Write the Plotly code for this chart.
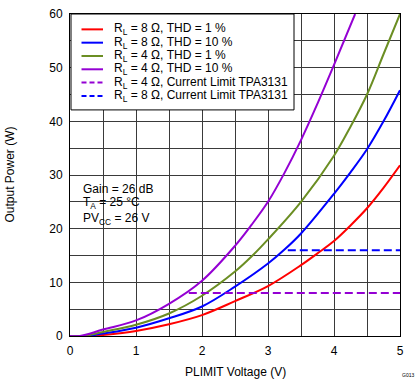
import plotly.graph_objects as go

# ---- data ----
v_red = [0, 0.3, 0.5, 1.0, 1.5, 2.0, 2.5, 3.0, 3.5, 3.75, 4.0, 4.25, 4.5, 4.75, 5.0]
p_red = [0, 0.0, 0.2, 0.95, 2.2, 3.9, 6.5, 9.3, 13.2, 15.4, 17.7, 20.6, 23.8, 27.6, 31.8]

v_blue = [0, 0.25, 0.5, 1.0, 1.5, 2.0, 2.5, 3.0, 3.25, 3.5, 4.0, 4.25, 4.5, 4.75, 5.0]
p_blue = [0, 0.0, 0.45, 1.55, 3.3, 5.5, 9.2, 13.5, 16.1, 19.1, 26.5, 30.5, 34.8, 40.0, 45.8]

v_olive = [0, 0.2, 0.5, 1.0, 1.5, 2.0, 2.5, 2.75, 3.0, 3.5, 4.0, 4.25, 4.5, 4.75, 5.0]
p_olive = [0, 0.0, 0.75, 2.1, 4.2, 7.5, 12.0, 14.8, 18.0, 25.0, 33.6, 39.0, 45.0, 52.5, 60.0]

v_purple = [0, 0.15, 0.5, 1.0, 1.5, 2.0, 2.5, 2.75, 3.0, 3.25, 3.5, 3.75, 4.0, 4.32]
p_purple = [0, 0.0, 1.2, 2.9, 6.0, 10.3, 16.8, 20.7, 25.0, 30.4, 36.5, 43.3, 50.5, 60.0]

v_lim4 = [1.8, 5.0]
p_lim4 = [8, 8]
v_lim8 = [3.3, 5.0]
p_lim8 = [16, 16]

names = [
    "R<sub>L</sub> = 8 Ω, THD = 1 %",
    "R<sub>L</sub> = 8 Ω, THD = 10 %",
    "R<sub>L</sub> = 4 Ω, THD = 1 %",
    "R<sub>L</sub> = 4 Ω, THD = 10 %",
    "R<sub>L</sub> = 4 Ω, Current Limit TPA3131",
    "R<sub>L</sub> = 8 Ω, Current Limit TPA3131",
]
colors = ["#FF0000", "#0000FF", "#6B8E23", "#9400D3", "#9400D3", "#0000FF"]
dashes = ["solid", "solid", "solid", "solid", "8px,4px", "8px,4px"]
xs = [v_red, v_blue, v_olive, v_purple, v_lim4, v_lim8]
ys = [p_red, p_blue, p_olive, p_purple, p_lim4, p_lim8]

FONT = "Liberation Sans, Arial, sans-serif"
W, H = 419, 382
L, R, T, B = 70, 19, 7, 46
PW, PH = W - L - R, H - T - B


def px(x):
    return (x - L) / PW


def py(y):
    return (H - B - y) / PH


fig = go.Figure()
for x, y, n, c, d in zip(xs, ys, names, colors, dashes):
    fig.add_trace(go.Scatter(x=x, y=y, mode="lines", name=n, showlegend=False, hoverinfo="skip",
                             line=dict(color=c, width=2, dash=d, shape="spline", smoothing=1.0)))

shapes = []
annotations = []
# legend box
shapes.append(dict(type="rect", xref="paper", yref="paper", x0=px(71), x1=px(294), y0=py(105), y1=py(7),
                   line=dict(color="black", width=1), fillcolor="white", layer="above"))
row0, step = 22.7, 13.6
for i, (n, c, d) in enumerate(zip(names, colors, dashes)):
    yy = row0 + i * step
    shapes.append(dict(type="line", xref="paper", yref="paper", x0=px(81.5), x1=px(103), y0=py(yy), y1=py(yy),
                       line=dict(color=c, width=2, dash="5px,3px" if d != "solid" else "solid"), layer="above"))
    annotations.append(dict(xref="paper", yref="paper", x=px(112), y=py(yy), text=n, showarrow=False,
                            xanchor="left", yanchor="middle", font=dict(family=FONT, size=12, color="black")))

# conditions text
for t, yy in zip(["Gain = 26 dB", "T<sub>A</sub> = 25 °C", "PV<sub>CC</sub> = 26 V"], [186, 200.5, 216]):
    annotations.append(dict(xref="paper", yref="paper", x=px(80.5), y=py(yy), text=t, showarrow=False,
                            xanchor="left", yanchor="middle", font=dict(family=FONT, size=12, color="black")))

# axis titles
annotations.append(dict(xref="paper", yref="paper", x=px(235), y=py(373), text="PLIMIT Voltage (V)",
                        showarrow=False, xanchor="center", yanchor="middle",
                        font=dict(family=FONT, size=12, color="black")))
annotations.append(dict(xref="paper", yref="paper", x=px(10), y=py(171), text="Output Power (W)",
                        showarrow=False, xanchor="center", yanchor="middle", textangle=-90,
                        font=dict(family=FONT, size=12, color="black")))
annotations.append(dict(xref="paper", yref="paper", x=px(408), y=py(376), text="G013",
                        showarrow=False, xanchor="center", yanchor="middle",
                        font=dict(family=FONT, size=5, color="black")))

grid = "#3a3a3a"
fig.update_layout(
    width=W, height=H,
    margin=dict(l=L, r=R, t=T, b=B),
    paper_bgcolor="white", plot_bgcolor="white",
    font=dict(family=FONT, size=12, color="black"),
    shapes=shapes, annotations=annotations,
    xaxis=dict(range=[0, 5], dtick=1, tick0=0, showgrid=True, gridcolor=grid, gridwidth=1,
               minor=dict(dtick=0.5, showgrid=True, gridcolor=grid, gridwidth=1),
               showline=True, linecolor="black", linewidth=1, mirror=True,
               ticks="outside", ticklen=4, tickcolor="rgba(0,0,0,0)", zeroline=False,
               tickfont=dict(family=FONT, size=12, color="black")),
    yaxis=dict(range=[0, 60], dtick=10, tick0=0, showgrid=True, gridcolor=grid, gridwidth=1,
               minor=dict(dtick=5, showgrid=True, gridcolor=grid, gridwidth=1),
               showline=True, linecolor="black", linewidth=1, mirror=True,
               ticks="outside", ticklen=4, tickcolor="rgba(0,0,0,0)", zeroline=False,
               tickfont=dict(family=FONT, size=12, color="black")),
)

fig.write_html("out.html", config={"displayModeBar": False},
               post_script="document.body.style.margin='0';document.body.style.overflow='hidden';")
